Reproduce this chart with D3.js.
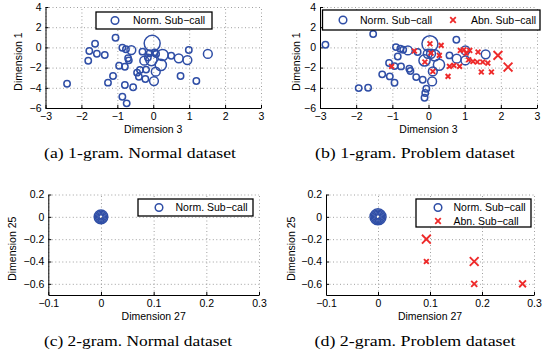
<!DOCTYPE html>
<html>
<head>
<meta charset="utf-8">
<script src="https://cdn.jsdelivr.net/npm/d3@7"></script>
<style>
  body { margin: 0; background: #fff; }
  svg { display: block; }
</style>
</head>
<body>
<div id="chart"></div>
<script>
// tick values
const dim3Ticks = [-3, -2, -1, 0, 1, 2, 3];
const dim1Ticks = [-6, -4, -2, 0, 2, 4];
const dim27Ticks = [-0.1, 0, 0.1, 0.2, 0.3];
const dim25Ticks = [-0.6, -0.4, -0.2, 0, 0.2];

// (a) 1-gram, normal dataset: normal sub-calls
const normA_x = [-2.4, -1.62, -1.78, -1.57, -1.81, -1.35, -1.05, -0.86, -0.76, -0.61, -0.70, -0.68, -0.95, -0.79,
  -1.12, -1.26, -0.79, -0.56, -0.86, -0.74, -0.30, -0.25, -0.37, -0.20, -0.40, -0.22, -0.03, -0.10, 0.04, 0.08,
  -0.05, 0.26, 0.21, 0.07, 0.02, 0.50, 0.71, 0.95, 0.99, 0.76, 1.20, 1.52, -0.45, -0.15];
const normA_y = [-3.6, 0.36, -0.36, -0.63, -1.32, -0.75, 0.96, -0.03, -0.19, -0.26, -1.08, -1.28, -1.81, -1.91,
  -2.83, -3.49, -3.72, -3.95, -4.88, -5.54, -0.42, -1.31, -2.24, -2.2, -2.9, -3.13, 0.4, -0.58, -0.49, -0.65,
  -1.25, -0.75, -1.74, -2.4, -3.33, -0.82, -1.08, -1.25, -0.26, -2.83, -3.33, -0.65, -2.5, -1.0];
const normA_w = [1, 1, 1, 1, 1, 1, 1, 1, 1, 2, 1, 1, 1, 1,
  1, 1, 1, 1, 1, 1, 1, 2, 1, 1, 1, 1, 5, 1, 1, 1,
  3, 3, 3, 2, 2, 1, 2, 2, 1, 1, 1, 2, 1, 1];

// (b) 1-gram, problem dataset
const normB_x = [-2.85, -1.53, -1.93, -1.67, -0.90, -0.78, -0.70, -0.57, -0.85, -1.09, -0.94, -0.76, -1.28, -1.07,
  -0.94, -0.53, -0.50, -0.34, -0.16, -0.30, 0.04, -0.11, -0.02, 0.07, 0.17, 0.29, 0.12, 0.10, -0.06, -0.09,
  -0.11, 0.58, 0.77, 0.78, 1.02, 1.02, 1.58];
const normB_y = [0.26, 1.32, -4.03, -4.0, 0.03, -0.13, -0.23, -0.3, -0.9, -1.55, -1.85, -1.88, -2.67, -2.87,
  -3.5, -2.11, -2.34, -2.94, -3.2, -0.46, 0.36, -1.29, -0.63, -0.63, -0.79, -1.72, -2.38, -3.37, -4.09, -4.52,
  -4.98, -0.79, 0.76, -1.12, -1.29, -0.3, -0.69];
const normB_w = [1, 1, 1, 1, 1, 1, 1, 2, 1, 1, 1, 1, 1, 1,
  1, 1, 1, 1, 1, 1, 5, 3, 2, 2, 3, 3, 2, 2, 1, 1,
  1, 1, 1, 2, 2, 2, 2];
const abnB_x = [-0.39, -1.02, 0.04, 0.35, 0.07, 0.30, -0.10, 0.12, 0.54, 0.58, 0.70, 0.86, 0.88, 0.98, 1.14,
  1.04, 1.37, 1.11, 1.23, 1.35, 1.50, 1.64, 1.46, 1.74, 1.92, 2.20];
const abnB_y = [-0.36, -1.88, 0.36, 0.2, -0.56, -0.79, -1.45, -2.38, -2.87, -1.88, -1.78, -1.88, -0.3, -0.23, -0.3,
  -0.56, -0.46, -1.22, -1.39, -1.45, -1.45, -1.55, -2.44, -2.44, -0.79, -1.95];
const abnB_w = [1, 1, 1, 1, 1, 1, 1, 1, 1, 1, 1, 1, 1, 1, 1,
  1, 1, 1, 1, 1, 1, 1, 1, 1, 3, 3];

// (c) 2-gram, normal dataset
const normC_x = [0, 0, 0, 0, 0];
const normC_y = [0, 0, 0, 0, 0];
const normC_w = [0, 1, 2, 3, 4];

// (d) 2-gram, problem dataset
const normD_x = [0, 0, 0, 0, 0, 0];
const normD_y = [0, 0, 0, 0, 0, 0];
const normD_w = [0, 1, 2, 3, 4, 5];
const abnD_x = [0.093, 0.093, 0.185, 0.185, 0.278];
const abnD_y = [-0.2, -0.4, -0.4, -0.6, -0.6];
const abnD_w = [3, 1, 3, 1.6, 2];

const blue = '#2f4ea6';
const red = '#ee2a2a';
const width = 542, height = 356;

const svg = d3.select('#chart').append('svg')
  .attr('width', width)
  .attr('height', height);

// marker sizes
const rScale = d3.scaleLinear().domain([0, 5]).range([2, 8]);
const xSize = d3.scaleLinear().domain([1, 3]).range([2.4, 4.4]);

function zip(xs, ys, ws) {
  return xs.map((d, i) => ({ x: d, y: ys[i], w: ws[i] }));
}

function drawPanel(p) {
  const x = d3.scaleLinear().domain(p.xDomain).range([p.left, p.right]);
  const y = d3.scaleLinear().domain(p.yDomain).range([p.bottom, p.top]);
  const g = svg.append('g');

  // dotted grid (also forms the top/right edges)
  g.append('g')
    .attr('transform', `translate(0,${p.bottom})`)
    .call(d3.axisBottom(x).tickValues(p.xTicks).tickSize(-(p.bottom - p.top)).tickFormat(''))
    .call(s => s.select('.domain').remove())
    .selectAll('line')
    .attr('stroke', '#888').attr('stroke-width', 0.8).attr('stroke-dasharray', '1,2.5');
  g.append('g')
    .attr('transform', `translate(${p.left},0)`)
    .call(d3.axisLeft(y).tickValues(p.yTicks).tickSize(-(p.right - p.left)).tickFormat(''))
    .call(s => s.select('.domain').remove())
    .selectAll('line')
    .attr('stroke', '#888').attr('stroke-width', 0.8).attr('stroke-dasharray', '1,2.5');

  // solid axes with inward ticks
  const fmt = d => d3.format(p.fmt)(d).replace('-', '\u2212');
  const xAxis = g.append('g')
    .attr('transform', `translate(0,${p.bottom})`)
    .call(d3.axisBottom(x).tickValues(p.xTicks).tickSizeInner(-3).tickSizeOuter(0).tickPadding(5).tickFormat(fmt));
  const yAxis = g.append('g')
    .attr('transform', `translate(${p.left},0)`)
    .call(d3.axisLeft(y).tickValues(p.yTicks).tickSizeInner(-3).tickSizeOuter(0).tickPadding(4).tickFormat(fmt));
  [xAxis, yAxis].forEach(a => {
    a.select('.domain').attr('stroke', '#000').attr('stroke-width', 1);
    a.selectAll('line').attr('stroke', '#000');
    a.selectAll('text').attr('font-family', 'Liberation Sans, Arial, sans-serif').attr('font-size', 10.5).attr('fill', '#000');
  });

  // normal sub-calls (circles)
  g.append('g').selectAll('circle')
    .data(p.normal)
    .join('circle')
    .attr('cx', d => x(d.x))
    .attr('cy', d => y(d.y))
    .attr('r', d => rScale(d.w))
    .attr('fill', 'none')
    .attr('stroke', blue)
    .attr('stroke-width', 1.5);

  // abnormal sub-calls (crosses)
  if (p.abnormal) {
    g.append('g').selectAll('path')
      .data(p.abnormal)
      .join('path')
      .attr('d', d => {
        const s = xSize(d.w), cx = x(d.x), cy = y(d.y);
        return `M${cx - s},${cy - s}L${cx + s},${cy + s}M${cx - s},${cy + s}L${cx + s},${cy - s}`;
      })
      .attr('stroke', red)
      .attr('stroke-width', 1.9)
      .attr('fill', 'none');
  }

  // axis titles
  g.append('text')
    .attr('x', (p.left + p.right) / 2)
    .attr('y', p.bottom + 25)
    .attr('text-anchor', 'middle')
    .attr('font-family', 'Liberation Sans, Arial, sans-serif')
    .attr('font-size', 10.5)
    .text(p.xLabel);
  g.append('text')
    .attr('transform', `translate(${p.yLabelX},${(p.top + p.bottom) / 2 + 4}) rotate(-90)`)
    .attr('text-anchor', 'middle')
    .attr('dy', '0.35em')
    .attr('font-family', 'Liberation Sans, Arial, sans-serif')
    .attr('font-size', 10.5)
    .text(p.yLabel);

  // legend
  const lg = p.legend;
  g.append('rect')
    .attr('x', lg.x).attr('y', lg.y).attr('width', lg.w).attr('height', lg.h)
    .attr('fill', '#fff').attr('stroke', '#000').attr('stroke-width', 1.3);
  lg.items.forEach(it => {
    if (it.kind === 'circle') {
      g.append('circle').attr('cx', it.mx).attr('cy', it.my).attr('r', 3.8)
        .attr('fill', 'none').attr('stroke', blue).attr('stroke-width', 1.5);
    } else {
      const s = 2.8;
      g.append('path')
        .attr('d', `M${it.mx - s},${it.my - s}L${it.mx + s},${it.my + s}M${it.mx - s},${it.my + s}L${it.mx + s},${it.my - s}`)
        .attr('stroke', red).attr('stroke-width', 1.8);
    }
    g.append('text')
      .attr('x', it.tx).attr('y', it.my)
      .attr('dy', '0.36em')
      .attr('font-family', 'Liberation Sans, Arial, sans-serif')
      .attr('font-size', 10.5)
      .text(it.label);
  });

  // caption
  g.append('text')
    .attr('x', p.capX)
    .attr('y', p.capY)
    .attr('text-anchor', 'middle')
    .attr('font-family', 'Liberation Serif, Times New Roman, serif')
    .attr('font-size', 14.5)
    .attr('textLength', p.capW)
    .attr('lengthAdjust', 'spacingAndGlyphs')
    .text(p.caption);
}

const normLabel = 'Norm. Sub\u2212call';
const abnLabel = 'Abn. Sub\u2212call';

drawPanel({
  left: 45.5, right: 261, top: 7, bottom: 108,
  xDomain: [-3, 3], yDomain: [-6, 4], xTicks: dim3Ticks, yTicks: dim1Ticks, fmt: 'd',
  normal: zip(normA_x, normA_y, normA_w),
  xLabel: 'Dimension 3', yLabel: 'Dimension 1', yLabelX: 18,
  legend: { x: 96, y: 12, w: 116, h: 17,
    items: [{ kind: 'circle', mx: 115, my: 20.5, tx: 133, label: normLabel }] },
  caption: '(a) 1-gram. Normal dataset', capX: 140, capY: 158, capW: 192
});

drawPanel({
  left: 320, right: 537, top: 7, bottom: 108,
  xDomain: [-3, 3], yDomain: [-6, 4], xTicks: dim3Ticks, yTicks: dim1Ticks, fmt: 'd',
  normal: zip(normB_x, normB_y, normB_w),
  abnormal: zip(abnB_x, abnB_y, abnB_w),
  xLabel: 'Dimension 3', yLabel: 'Dimension 1', yLabelX: 296,
  legend: { x: 322.5, y: 10, w: 217.5, h: 20,
    items: [{ kind: 'circle', mx: 343, my: 20, tx: 360, label: normLabel },
            { kind: 'cross', mx: 453, my: 20, tx: 471, label: abnLabel }] },
  caption: '(b) 1-gram. Problem dataset', capX: 415, capY: 158, capW: 200
});

drawPanel({
  left: 48.3, right: 259, top: 194.5, bottom: 295,
  xDomain: [-0.1, 0.3], yDomain: [-0.7, 0.2], xTicks: dim27Ticks, yTicks: dim25Ticks, fmt: '.1~f',
  normal: zip(normC_x, normC_y, normC_w),
  xLabel: 'Dimension 27', yLabel: 'Dimension 25', yLabelX: 12.7,
  legend: { x: 138, y: 199, w: 115, h: 17,
    items: [{ kind: 'circle', mx: 159, my: 207.5, tx: 175.5, label: normLabel }] },
  caption: '(c) 2-gram. Normal dataset', capX: 138, capY: 346, capW: 188
});

drawPanel({
  left: 326, right: 534, top: 194.5, bottom: 295,
  xDomain: [-0.1, 0.3], yDomain: [-0.7, 0.2], xTicks: dim27Ticks, yTicks: dim25Ticks, fmt: '.1~f',
  normal: zip(normD_x, normD_y, normD_w),
  abnormal: zip(abnD_x, abnD_y, abnD_w),
  xLabel: 'Dimension 27', yLabel: 'Dimension 25', yLabelX: 291,
  legend: { x: 416, y: 199, w: 115, h: 28,
    items: [{ kind: 'circle', mx: 438, my: 207.5, tx: 453.5, label: normLabel },
            { kind: 'cross', mx: 438, my: 221, tx: 453.5, label: abnLabel }] },
  caption: '(d) 2-gram. Problem dataset', capX: 415, capY: 346, capW: 201
});
</script>
</body>
</html>
